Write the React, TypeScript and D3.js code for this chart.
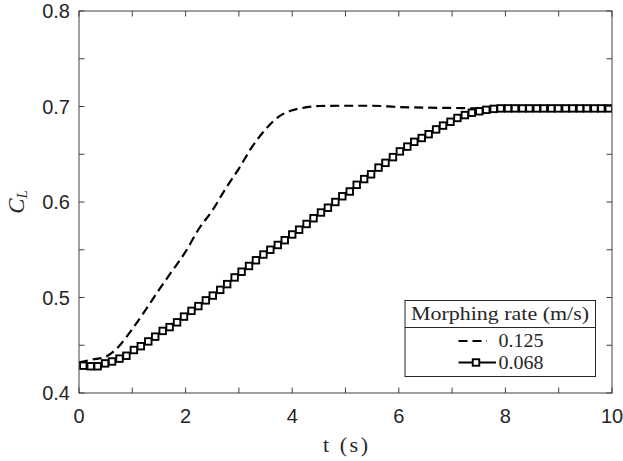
import React from "react";
import * as d3 from "d3";

const xTicks = [0, 1, 2, 3, 4, 5, 6, 7, 8, 9, 10];
const xTickLabels = ["0", "", "2", "", "4", "", "6", "", "8", "", "10"];
const yTicks = [0.4, 0.45, 0.5, 0.55, 0.6, 0.65, 0.7, 0.75, 0.8];
const yTickLabels = ["0.4", "", "0.5", "", "0.6", "", "0.7", "", "0.8"];

// Morphing rate 0.125 m/s (dashed)
const fastT = [0, 0.25, 0.5, 0.75, 1, 1.25, 1.5, 1.75, 2, 2.25, 2.5, 2.75, 3, 3.25, 3.5, 3.75, 4, 4.25, 4.5, 5, 5.5, 6, 6.5, 7, 7.5, 8, 9, 10];
const fastCL = [0.432, 0.435, 0.438, 0.449, 0.467, 0.487, 0.508, 0.528, 0.548, 0.572, 0.591, 0.614, 0.635, 0.658, 0.676, 0.6895, 0.696, 0.699, 0.7005, 0.7008, 0.7008, 0.6995, 0.6988, 0.6985, 0.698, 0.698, 0.698, 0.698];

// Morphing rate 0.068 m/s (squares)
const slowT = [0.08, 0.22, 0.35, 0.49, 0.62, 0.76, 0.89, 1.03, 1.16, 1.3, 1.43, 1.57, 1.7, 1.84, 1.97, 2.11, 2.24, 2.38, 2.51, 2.65, 2.78, 2.92, 3.05, 3.19, 3.32, 3.46, 3.59, 3.73, 3.86, 4.0, 4.13, 4.27, 4.4, 4.54, 4.67, 4.81, 4.94, 5.08, 5.21, 5.35, 5.48, 5.62, 5.75, 5.89, 6.02, 6.16, 6.29, 6.43, 6.56, 6.7, 6.83, 6.97, 7.1, 7.24, 7.37, 7.51, 7.64, 7.78, 7.91, 8.05, 8.18, 8.32, 8.45, 8.59, 8.72, 8.86, 8.99, 9.13, 9.26, 9.4, 9.53, 9.67, 9.8, 9.94];
const slowCL = [0.4286, 0.428, 0.428, 0.431, 0.433, 0.436, 0.439, 0.445, 0.449, 0.454, 0.459, 0.465, 0.469, 0.474, 0.48, 0.486, 0.491, 0.497, 0.502, 0.508, 0.514, 0.521, 0.527, 0.533, 0.539, 0.545, 0.55, 0.555, 0.56, 0.566, 0.571, 0.577, 0.583, 0.589, 0.594, 0.6, 0.606, 0.611, 0.618, 0.624, 0.629, 0.636, 0.641, 0.647, 0.653, 0.658, 0.663, 0.667, 0.671, 0.676, 0.68, 0.684, 0.688, 0.691, 0.6935, 0.695, 0.6965, 0.6975, 0.698, 0.698, 0.698, 0.698, 0.698, 0.698, 0.698, 0.698, 0.698, 0.698, 0.698, 0.698, 0.698, 0.698, 0.698, 0.698];

const legendTitle = "Morphing rate (m/s)";
const seriesNames = ["0.125", "0.068"];

export default function App() {
  const W = 623, H = 461;
  const L = 79, R = 612, T = 11, B = 393;
  const x = d3.scaleLinear().domain([0, 10]).range([L, R]);
  const y = d3.scaleLinear().domain([0.4, 0.8]).range([B, T]);
  const axisColor = "#404040";
  const tickLen = 5.5;
  const sans = "'Liberation Sans', Arial, Helvetica, sans-serif";
  const serif = "'Liberation Serif', 'DejaVu Serif', serif";

  const line = d3.line<number>().x((d, i) => x(fastT[i])).y((d) => y(d)).curve(d3.curveMonotoneX);
  const line2 = d3.line<number>().x((d, i) => x(slowT[i])).y((d) => y(d)).curve(d3.curveMonotoneX);
  const ms = 6.5;
  const lw = 2.2;

  return (
    <svg width={W} height={H} style={{ position: "absolute", left: 0, top: 0, background: "#fff" }}>
      <rect x={0} y={0} width={W} height={H} fill="#fff" />
      <defs>
        <clipPath id="plot">
          <rect x={L} y={T} width={R - L} height={B - T} />
        </clipPath>
      </defs>
      {/* data */}
      <g clipPath="url(#plot)">
        <path d={line2(slowCL) || ""} fill="none" stroke="#000" strokeWidth={lw} />
        <path d={line(fastCL) || ""} fill="none" stroke="#000" strokeWidth={lw} strokeDasharray="9,5" />
        {slowCL.map((v, i) => (
          <rect key={i} x={x(slowT[i]) - ms / 2} y={y(v) - ms / 2} width={ms} height={ms} fill="#fff" stroke="#000" strokeWidth={1.9} />
        ))}
      </g>
      {/* box */}
      <rect x={L} y={T} width={R - L} height={B - T} fill="none" stroke={axisColor} strokeWidth={1} />
      {xTicks.map((t, i) => (
        <g key={"xt" + i}>
          <line x1={x(t)} x2={x(t)} y1={B} y2={B - tickLen} stroke={axisColor} />
          <line x1={x(t)} x2={x(t)} y1={T} y2={T + tickLen} stroke={axisColor} />
          {xTickLabels[i] && (
            <text x={x(t)} y={423} textAnchor="middle" fontFamily={sans} fontSize={20} fill="#262626">
              {xTickLabels[i]}
            </text>
          )}
        </g>
      ))}
      {yTicks.map((t, i) => (
        <g key={"yt" + i}>
          <line x1={L} x2={L + tickLen} y1={y(t)} y2={y(t)} stroke={axisColor} />
          <line x1={R} x2={R - tickLen} y1={y(t)} y2={y(t)} stroke={axisColor} />
          {yTickLabels[i] && (
            <text x={70} y={y(t) + 7} textAnchor="end" fontFamily={sans} fontSize={20} fill="#262626">
              {yTickLabels[i]}
            </text>
          )}
        </g>
      ))}
      {/* axis labels */}
      <text x={(L + R) / 2} y={452} textAnchor="middle" fontFamily={serif} fontSize={22} fill="#262626" textLength={45} lengthAdjust="spacing">
        t (s)
      </text>
      <text transform={`translate(24, ${(T + B) / 2}) rotate(-90)`} textAnchor="middle" fontFamily={serif} fontSize={23} fill="#262626">
        <tspan fontStyle="italic">C</tspan>
        <tspan fontStyle="italic" fontSize={15} dy={3}>L</tspan>
      </text>
      {/* legend */}
      <g>
        <rect x={405} y={300.5} width={190.5} height={76} fill="#fff" stroke="#262626" strokeWidth={1} />
        <line x1={405} x2={595.5} y1={327.5} y2={327.5} stroke="#262626" strokeWidth={1} />
        <text x={500} y={319.5} textAnchor="middle" fontFamily={serif} fontSize={19} fill="#262626" textLength={178} lengthAdjust="spacingAndGlyphs">
          {legendTitle}
        </text>
        <line x1={458.5} x2={487} y1={341} y2={341} stroke="#000" strokeWidth={lw} strokeDasharray="9,5" />
        <text x={498.5} y={347} fontFamily={serif} fontSize={19} fill="#262626" textLength={45} lengthAdjust="spacingAndGlyphs">
          {seriesNames[0]}
        </text>
        <line x1={458.5} x2={496} y1={362.5} y2={362.5} stroke="#000" strokeWidth={lw} />
        <rect x={476 - ms / 2} y={362.5 - ms / 2} width={ms} height={ms} fill="#fff" stroke="#000" strokeWidth={1.9} />
        <text x={498.5} y={369} fontFamily={serif} fontSize={19} fill="#262626" textLength={45} lengthAdjust="spacingAndGlyphs">
          {seriesNames[1]}
        </text>
      </g>
    </svg>
  );
}
